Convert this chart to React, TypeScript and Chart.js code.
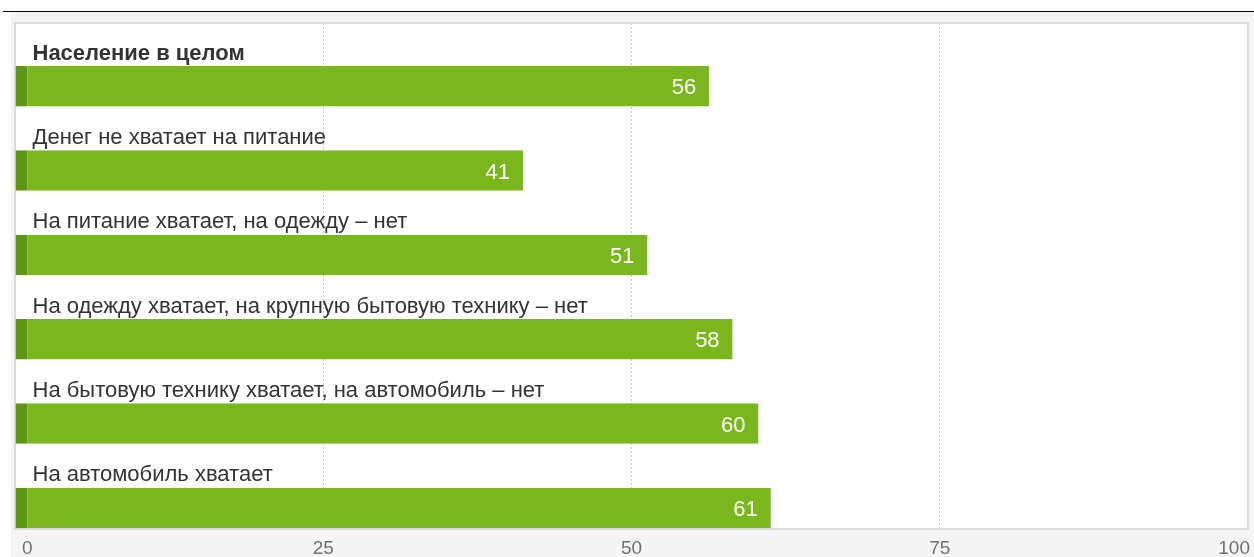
import React, { useEffect, useRef } from "react";
import { Chart, registerables } from "chart.js";

Chart.register(...registerables);

const categories = [
  "Население в целом",
  "Денег не хватает на питание",
  "На питание хватает, на одежду – нет",
  "На одежду хватает, на крупную бытовую технику – нет",
  "На бытовую технику хватает, на автомобиль – нет",
  "На автомобиль хватает",
];
const values = [56.3, 41.2, 51.3, 58.2, 60.3, 61.3];
const valueLabels = ["56", "41", "51", "58", "60", "61"];
const boldCategories = ["Население в целом"];
const tickValues = [0, 25, 50, 75, 100];

const FONT = "'Liberation Sans', Arial, sans-serif";

export default function App() {
  const ref = useRef<HTMLCanvasElement | null>(null);

  useEffect(() => {
    if (!ref.current) return;
    const overlay = {
      id: "overlay",
      beforeDraw(chart: any) {
        const { ctx, chartArea: a } = chart;
        ctx.save();
        ctx.fillStyle = "#ffffff";
        ctx.fillRect(a.left, a.top, a.right - a.left, a.bottom - a.top);
        ctx.restore();
      },
      beforeDatasetsDraw(chart: any) {
        const { ctx, chartArea: a } = chart;
        ctx.save();
        ctx.strokeStyle = "#dcdcdc";
        ctx.lineWidth = 2;
        ctx.strokeRect(a.left, a.top, a.right - a.left, a.bottom - a.top);
        ctx.restore();
      },
      afterDatasetsDraw(chart: any) {
        const { ctx, chartArea: a } = chart;
        const meta = chart.getDatasetMeta(1);
        ctx.save();
        meta.data.forEach((bar: any, i: number) => {
          const top = bar.y - bar.height / 2;
          const bold = boldCategories.includes(categories[i]);
          ctx.font = `${bold ? "bold " : ""}22px ${FONT}`;
          ctx.fillStyle = "#333333";
          ctx.textAlign = "left";
          ctx.textBaseline = "alphabetic";
          ctx.fillText(categories[i], a.left + 17.5, top - 6.5);
          ctx.font = `22px ${FONT}`;
          ctx.fillStyle = "#ffffff";
          ctx.textAlign = "right";
          ctx.fillText(valueLabels[i], bar.x - 13, bar.y + 8);
        });
        const xs = chart.scales.x;
        ctx.font = `19px ${FONT}`;
        ctx.fillStyle = "#707070";
        ctx.textAlign = "center";
        tickValues.forEach((v) => {
          const label = String(v);
          const w = ctx.measureText(label).width;
          let x = xs.getPixelForValue(v);
          x = Math.max(x, a.left + w / 2 + 7);
          x = Math.min(x, a.right - w / 2 + 2);
          ctx.fillText(label, x, a.bottom + 25);
        });
        ctx.restore();
      },
    };

    const chart = new Chart(ref.current, {
      type: "bar",
      data: {
        labels: categories,
        datasets: [
          {
            label: "spacer",
            data: categories.map(() => null),
            backgroundColor: "rgba(0,0,0,0)",
          },
          {
            label: "Доля",
            data: values,
            backgroundColor: "#7ab71d",
            borderColor: "#5e9615",
            borderWidth: { left: 12, right: 0, top: 0, bottom: 0 },
            borderSkipped: false,
          },
        ],
      },
      options: {
        indexAxis: "y",
        animation: false,
        responsive: false,
        maintainAspectRatio: false,
        layout: { padding: { left: 4, top: 11, right: 6, bottom: 28 } },
        datasets: { bar: { categoryPercentage: 1, barPercentage: 0.96 } },
        plugins: {
          legend: { display: false },
          tooltip: { enabled: false },
        },
        scales: {
          y: { display: false },
          x: {
            min: 0,
            max: 100,
            afterBuildTicks(scale: any) {
              scale.ticks = tickValues.map((v) => ({ value: v }));
            },
            ticks: { display: false },
            grid: { color: "#c8c8c8", lineWidth: 1, drawTicks: false },
            border: { display: false, dash: [2, 2] },
          },
        },
      },
      plugins: [overlay],
    } as any);
    return () => chart.destroy();
  }, []);

  return (
    <div style={{ position: "absolute", left: 0, top: 0, width: 1254, height: 557, overflow: "hidden", background: "#ffffff" }}>
      <div style={{ position: "absolute", left: 3, top: 11, width: 1251, height: 1, background: "#000000" }} />
      <div style={{ position: "absolute", left: 11, top: 12, width: 1243, height: 545, background: "#f5f5f5" }}>
        <canvas ref={ref} width={1243} height={545} style={{ display: "block" }} />
      </div>
    </div>
  );
}
